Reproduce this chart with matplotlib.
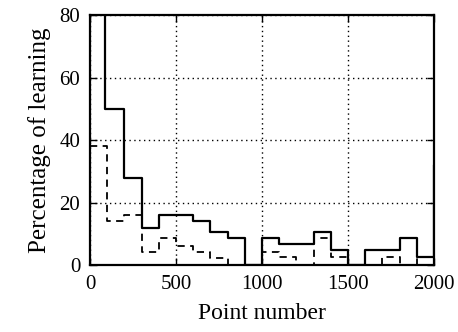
import matplotlib
matplotlib.use('Agg')
import matplotlib.pyplot as plt

# Datos (escalones)
solid_x = [0, 90, 200, 300, 400, 600, 700, 800, 900, 1000, 1100, 1300, 1400, 1500, 1600, 1800, 1900, 2000, 2100]
solid_y = [100, 50, 28, 12, 16, 14, 10.5, 8.5, 0, 8.5, 6.7, 10.5, 4.8, 0, 4.8, 8.5, 2.5, 32, 32]
dashed_x = [0, 100, 200, 300, 400, 500, 600, 700, 800, 1000, 1100, 1200, 1300, 1400, 1500, 1700, 1800, 1900, 2000]
dashed_y = [38, 14, 16, 4.3, 8.5, 6, 4.3, 2.2, 0, 4.3, 2.5, 0, 8.5, 2.5, 0, 2.5, 0, 2.6, 2.6]
xticks = [0, 500, 1000, 1500, 2000]
yticks = [0, 20, 40, 60, 80]

plt.rcParams['font.family'] = ['Liberation Serif', 'DejaVu Serif']

fig = plt.figure(figsize=(4.58, 3.32), dpi=100)
ax = fig.add_axes([0.1965, 0.2018, 0.751, 0.753])

ax.step(solid_x, solid_y, where='post', color='black', lw=1.6)
ax.step(dashed_x, dashed_y, where='post', color='black', lw=1.3, linestyle=(0, (4, 3)))

ax.set_xlim(0, 2000)
ax.set_ylim(0, 80)
ax.set_xticks(xticks)
ax.set_yticks(yticks)
ax.grid(True, color='black', linestyle=(0, (1, 2.5)), linewidth=1)
ax.tick_params(direction='in', length=5, width=1, top=True, right=True, labelsize=15, pad=7)
for s in ax.spines.values():
    s.set_linewidth(1.6)

ax.set_xlabel('Point number', fontsize=17, labelpad=7)
ax.set_ylabel('Percentage of learning', fontsize=18, labelpad=6)

fig.savefig('out.png', dpi=100)
